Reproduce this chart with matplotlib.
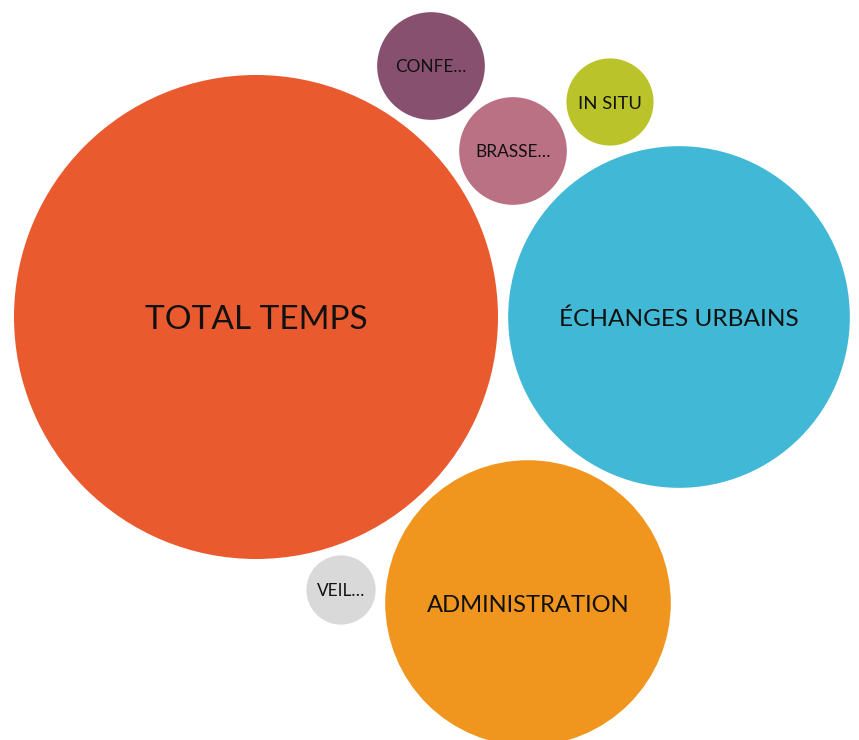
import numpy as np
import matplotlib
matplotlib.use("Agg")
import matplotlib.pyplot as plt
from matplotlib.patches import Circle

# Data
labels = ["TOTAL TEMPS", "ÉCHANGES URBAINS", "ADMINISTRATION", "CONFE…", "BRASSE…", "IN SITU", "VEIL…"]
values = [58.6, 29.2, 20.4, 2.9, 2.9, 1.9, 1.2]
colors = ["#EA5A2F", "#41B8D5", "#F0951E", "#87506F", "#BA7184", "#BAC42A", "#D9D9D9"]
# bubble layout (packed centers, pixel space)
center_x = [256, 679, 528, 431, 513, 610, 341]
center_y = [317, 317, 603, 66, 151, 102, 590]
font_sizes = [24, 17.6, 17.1, 12.4, 12.4, 13.3, 12.4]

W, H = 859, 740
fig = plt.figure(figsize=(W / 100, H / 100), dpi=100)
ax = fig.add_axes([0, 0, 1, 1])
ax.set_xlim(0, W)
ax.set_ylim(H, 0)
ax.set_aspect("equal")
ax.axis("off")

scale = 242 / np.sqrt(values[0])
for lab, v, c, x, y, fs in zip(labels, values, colors, center_x, center_y, font_sizes):
    r = np.sqrt(v) * scale
    ax.add_patch(Circle((x, y), r, facecolor=c, edgecolor="none"))
    ax.text(x, y + fs * 0.5, lab, ha="center", va="baseline", fontsize=fs, color="#111111",
            family=["Lato", "DejaVu Sans"])

fig.savefig("out.png", dpi=100)
